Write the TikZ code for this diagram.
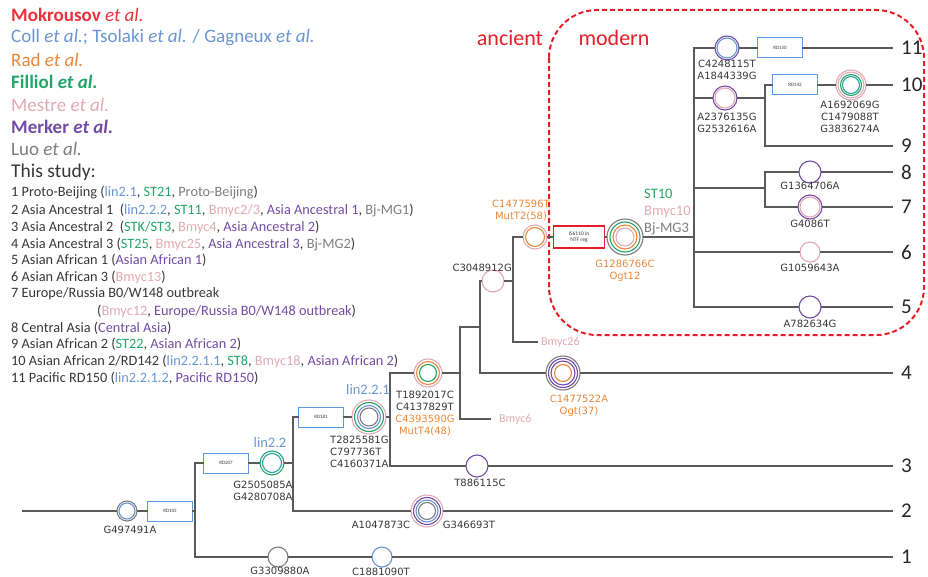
\documentclass[tikz,border=0pt]{standalone}
\usepackage{fontspec}
\setmainfont{Carlito}
\newfontfamily\mutfont{DejaVu Sans}
\usetikzlibrary{positioning}

\definecolor{mokred}{RGB}{235,50,60}
\definecolor{collblue}{RGB}{105,150,210}
\definecolor{radorange}{RGB}{235,135,55}
\definecolor{filgreen}{RGB}{35,165,105}
\definecolor{mespink}{RGB}{225,170,180}
\definecolor{merpurple}{RGB}{115,75,165}
\definecolor{luogray}{RGB}{125,125,125}
\definecolor{treegray}{RGB}{90,90,90}
\definecolor{boxblue}{RGB}{95,155,220}
\definecolor{textdark}{RGB}{55,55,55}
\definecolor{dashred}{RGB}{230,30,40}
\definecolor{ringteal}{RGB}{40,160,160}

\newcommand{\srcColl}[1]{\textcolor{collblue}{#1}}
\newcommand{\srcFil}[1]{\textcolor{filgreen}{#1}}
\newcommand{\srcMes}[1]{\textcolor{mespink}{#1}}
\newcommand{\srcMer}[1]{\textcolor{merpurple}{#1}}
\newcommand{\srcLuo}[1]{\textcolor{luogray}{#1}}

% concentric SNP rings: name, position, radius/colour list (outer first)
\newcommand{\snp}[3]{%
  \foreach \rad/\col [count=\k] in {#3}{%
    \ifnum\k=1
      \node[snpring, draw=\col, minimum size=2*\rad*1pt] (#1) at (#2) {};
    \else
      \draw[ring, \col] (#1.center) circle[radius=\rad*1pt];
    \fi}}

\tikzset{
  branch/.style={draw=treegray, line width=1.4pt, line cap=rect},
  snpring/.style={circle, fill=white, line width=1.1pt, inner sep=0pt},
  ring/.style={line width=1.1pt},
  rdbox/.style={draw=boxblue, fill=white, line width=1pt, minimum width=45pt,
    minimum height=20pt, inner sep=0pt, text=textdark,
    font=\fontsize{5}{6}\selectfont},
  isbox/.style={draw=dashred, fill=white, line width=1.1pt, minimum width=51pt,
    minimum height=22pt, inner sep=0pt, align=center, text=textdark,
    font=\fontsize{5.5}{6}\selectfont},
  mut/.style={font=\mutfont\fontsize{10}{12}\selectfont, text=textdark,
    align=center, inner sep=0pt},
  grp/.style={font=\fontsize{14.5}{17}\selectfont, inner sep=0pt},
  era/.style={font=\fontsize{22}{22}\selectfont, text=dashred, inner sep=0pt},
  leaf/.style={anchor=west, inner xsep=9pt, inner ysep=0pt, text=black!85,
    font=\fontsize{21}{21}\selectfont},
  src/.style={anchor=west, inner sep=0pt, font=\fontsize{19}{21}\selectfont},
  study/.style={anchor=west, inner sep=0pt, text=textdark,
    font=\fontsize{14.3}{15}\selectfont},
  modernbox/.style={draw=dashred, line width=2pt, dash pattern=on 5pt off 3pt,
    rounded corners=48pt},
}

\begin{document}
\begin{tikzpicture}[x=1pt,y=-1pt]
  \useasboundingbox (0,0) rectangle (928,577);

  % legend
  \node[src, text=mokred] (lgMok) at (11,15) {\textbf{Mokrousov} \textit{et al.}};
  \node[src, text=collblue] (lgColl) at (11,38) {Coll \textit{et al.}; Tsolaki \textit{et al.} / Gagneux \textit{et al.}};
  \node[src, text=radorange] (lgRad) at (11,60) {Rad \textit{et al.}};
  \node[src, text=filgreen] (lgFil) at (11,82) {\textbf{Filliol \textit{et al.}}};
  \node[src, text=mespink] (lgMes) at (11,105) {Mestre \textit{et al.}};
  \node[src, text=merpurple] (lgMer) at (11,127) {\textbf{Merker \textit{et al.}}};
  \node[src, text=luogray] (lgLuo) at (11,149) {Luo \textit{et al.}};
  \node[src, text=textdark, font=\fontsize{19.5}{21}\selectfont] (lgStudy) at (11,172) {This study:};
  \node[study] (st1) at (11,193) {1 Proto-Beijing (\srcColl{lin2.1}, \srcFil{ST21}, \srcLuo{Proto-Beijing})};
  \node[study] (st2) at (11,210) {2 Asia Ancestral 1\ \ (\srcColl{lin2.2.2}, \srcFil{ST11}, \srcMes{Bmyc2/3}, \srcMer{Asia Ancestral 1}, \srcLuo{Bj-MG1})};
  \node[study] (st3) at (11,227) {3 Asia Ancestral 2\ \ (\srcFil{STK/ST3}, \srcMes{Bmyc4}, \srcMer{Asia Ancestral 2})};
  \node[study] (st4) at (11,244) {4 Asia Ancestral 3 (\srcFil{ST25}, \srcMes{Bmyc25}, \srcMer{Asia Ancestral 3}, \srcLuo{Bj-MG2})};
  \node[study] (st5) at (11,260) {5 Asian African 1 (\srcMer{Asian African 1})};
  \node[study] (st6) at (11,277) {6 Asian African 3 (\srcMes{Bmyc13})};
  \node[study] (st7) at (11,294) {7 Europe/Russia B0/W148 outbreak};
  \node[study] (st7b) at (97,311) {(\srcMes{Bmyc12}, \srcMer{Europe/Russia B0/W148 outbreak})};
  \node[study] (st8) at (11,328) {8 Central Asia (\srcMer{Central Asia})};
  \node[study] (st9) at (11,344) {9 Asian African 2 (\srcFil{ST22}, \srcMer{Asian African 2})};
  \node[study] (st10) at (11,361) {10 Asian African 2/RD142 (\srcColl{lin2.2.1.1}, \srcFil{ST8}, \srcMes{Bmyc18}, \srcMer{Asian African 2})};
  \node[study] (st11) at (11,378) {11 Pacific RD150 (\srcColl{lin2.2.1.2}, \srcMer{Pacific RD150})};

  % modern clade
  \draw[modernbox] (549,10) rectangle (924,335);
  \node[era] (ancient) at (510,38) {ancient};
  \node[era] (modern) at (614,38) {modern};

  % junctions
  \coordinate (root) at (23,511);
  \coordinate (j1) at (195,511);  \coordinate (j1t) at (195,463); \coordinate (j1b) at (195,557);
  \coordinate (j2) at (293,463);  \coordinate (j2t) at (293,417); \coordinate (j2b) at (293,511);
  \coordinate (j3) at (390,417);  \coordinate (j3t) at (390,373); \coordinate (j3b) at (390,466);
  \coordinate (j4) at (460,373);  \coordinate (j4t) at (460,327); \coordinate (j4b) at (460,419);
  \coordinate (j5) at (480,327);  \coordinate (j5t) at (480,281); \coordinate (j5b) at (480,373);
  \coordinate (j6) at (513,281);  \coordinate (j6t) at (513,237); \coordinate (j6b) at (513,342);
  \coordinate (j7) at (694,237);  \coordinate (j7t) at (694,48);  \coordinate (j7b) at (694,307);
  \coordinate (j7c) at (694,98);  \coordinate (j7d) at (694,188); \coordinate (j7e) at (694,252);
  \coordinate (j8) at (765,98);   \coordinate (j8t) at (765,85);  \coordinate (j8b) at (765,146);
  \coordinate (j9) at (765,188);  \coordinate (j9t) at (765,172); \coordinate (j9b) at (765,207);

  % SNPs
  \snp{c497}{127,511}{10/luogray,8/collblue}
  \snp{c2505}{272,463}{12/filgreen,9.5/ringteal}
  \snp{c2825}{369,417}{17/mespink,14.5/filgreen,11.5/collblue,9/luogray}
  \snp{c1892}{428,373}{14/mespink,11.5/radorange,8.5/filgreen}
  \snp{c3309}{278,557}{10/luogray}
  \snp{c1881}{382,557}{10/collblue}
  \snp{c1047}{427,511}{16/mespink,13.5/merpurple,11/collblue,8.5/luogray}
  \snp{c886}{477,466}{11/merpurple}
  \snp{c1477a}{563,373}{17/luogray,14.5/merpurple,12/merpurple,8.5/radorange}
  \snp{c3048}{493,281}{11/mespink}
  \snp{c1477b}{535,237}{12/mespink,9.5/radorange}
  \snp{c1286}{625,237}{18/luogray,15/filgreen,12/radorange,9/mespink}
  \snp{c4248}{727,48}{12/merpurple,10/collblue}
  \snp{c2376}{725,98}{12/merpurple,10/mespink}
  \snp{c1692}{851,85}{15/mespink,13/mespink,10.5/filgreen,8.5/ringteal}
  \snp{c1364}{810,172}{11/merpurple}
  \snp{c4086}{810,207}{12/merpurple,10/mespink}
  \snp{c1059}{810,252}{10/mespink}
  \snp{c782}{810,307}{11/merpurple}

  % deletions
  \node[rdbox] (rd105) at (170,511) {RD105};
  \node[rdbox] (rd207) at (226,463) {RD207};
  \node[rdbox] (rd181) at (321,417) {RD181};
  \node[rdbox] (rd150) at (780,48) {RD150};
  \node[rdbox] (rd142) at (795,85) {RD142};
  \node[isbox] (is6110) at (579,237) {IS6110 in\\NTF reg};

  % leaves
  \node[leaf] (leaf1) at (892,557) {1};
  \node[leaf] (leaf2) at (892,511) {2};
  \node[leaf] (leaf3) at (892,466) {3};
  \node[leaf] (leaf4) at (892,373) {4};
  \node[leaf] (leaf5) at (892,307) {5};
  \node[leaf] (leaf6) at (892,252) {6};
  \node[leaf] (leaf7) at (892,207) {7};
  \node[leaf] (leaf8) at (892,172) {8};
  \node[leaf] (leaf9) at (892,146) {9};
  \node[leaf] (leaf10) at (892,85) {10};
  \node[leaf] (leaf11) at (892,48) {11};
  \node[anchor=west, inner xsep=9pt, text=mespink, font=\fontsize{12}{12}\selectfont] (bmyc6) at (490,419) {Bmyc6};
  \node[anchor=west, inner xsep=4pt, text=mespink, font=\fontsize{12}{12}\selectfont] (bmyc26) at (537,342) {Bmyc26};

  % tree
  \draw[branch] (root) -- (c497) -- (rd105) -- (j1);
  \draw[branch] (j1t) -- (j1b);
  \draw[branch] (j1t) -- (rd207) -- (c2505) -- (j2);
  \draw[branch] (j1b) -- (c3309) -- (c1881) -- (leaf1.west);
  \draw[branch] (j2t) -- (j2b);
  \draw[branch] (j2b) -- (c1047) -- (leaf2.west);
  \draw[branch] (j2t) -- (rd181) -- (c2825) -- (j3);
  \draw[branch] (j3t) -- (j3b);
  \draw[branch] (j3b) -- (c886) -- (leaf3.west);
  \draw[branch] (j3t) -- (c1892) -- (j4);
  \draw[branch] (j4t) -- (j4b);
  \draw[branch] (j4b) -- (bmyc6.west);
  \draw[branch] (j4t) -- (j5);
  \draw[branch] (j5t) -- (j5b);
  \draw[branch] (j5b) -- (c1477a) -- (leaf4.west);
  \draw[branch] (j5t) -- (c3048) -- (j6);
  \draw[branch] (j6t) -- (j6b);
  \draw[branch] (j6b) -- (bmyc26.west);
  \draw[branch] (j6t) -- (c1477b) -- (is6110) -- (c1286) -- (j7);
  \draw[branch] (j7t) -- (j7b);
  \draw[branch] (j7t) -- (c4248) -- (rd150) -- (leaf11.west);
  \draw[branch] (j7c) -- (c2376) -- (j8);
  \draw[branch] (j8t) -- (j8b);
  \draw[branch] (j8t) -- (rd142) -- (c1692) -- (leaf10.west);
  \draw[branch] (j8b) -- (leaf9.west);
  \draw[branch] (j7d) -- (j9);
  \draw[branch] (j9t) -- (j9b);
  \draw[branch] (j9t) -- (c1364) -- (leaf8.west);
  \draw[branch] (j9b) -- (c4086) -- (leaf7.west);
  \draw[branch] (j7e) -- (c1059) -- (leaf6.west);
  \draw[branch] (j7b) -- (c782) -- (leaf5.west);

  % mutation labels
  \node[mut] (l497) at (130,530) {G497491A};
  \node[mut] (l2505) at (263,491) {G2505085A\\G4280708A};
  \node[mut] (l3309) at (280,571) {G3309880A};
  \node[mut] (l1881) at (381,572) {C1881090T};
  \node[mut] (l1047a) at (381,525) {A1047873C};
  \node[mut] (l1047b) at (469,525) {G346693T};
  \node[mut, anchor=west, align=left] (l2825) at (330,452) {T2825581G\\C797736T\\C4160371A};
  \node[mut] (l886) at (480,483) {T886115C};
  \node[mut] (l1892) at (425,413) {T1892017C\\C4137829T\\\textcolor{radorange}{C4393590G}\\\textcolor{radorange}{MutT4(48)}};
  \node[mut, text=radorange] (l1477a) at (579,406) {C1477522A\\Ogt(37)};
  \node[mut, anchor=east] (l3048) at (512,268) {C3048912G};
  \node[mut, text=radorange] (l1477b) at (521,210) {C1477596T\\MutT2(58)};
  \node[mut, text=radorange] (l1286) at (625,271) {G1286766C\\Ogt12};
  \node[mut] (l4248) at (727,70) {C4248115T\\A1844339G};
  \node[mut] (l2376) at (727,123) {A2376135G\\G2532616A};
  \node[mut] (l1692) at (850,117) {A1692069G\\C1479088T\\G3836274A};
  \node[mut] (l1364) at (810,186) {G1364706A};
  \node[mut] (l4086) at (810,224) {G4086T};
  \node[mut] (l1059) at (810,268) {G1059643A};
  \node[mut] (l782) at (810,324) {A782634G};

  % lineage labels
  \node[grp, text=collblue] (llin22) at (270,443) {lin2.2};
  \node[grp, text=collblue] (llin221) at (368,390) {lin2.2.1};
  \node[grp, anchor=west, align=left] (lst10) at (644,212) {\textcolor{filgreen}{ST10}\\\textcolor{mespink}{Bmyc10}\\\textcolor{luogray}{Bj-MG3}};
\end{tikzpicture}
\end{document}
